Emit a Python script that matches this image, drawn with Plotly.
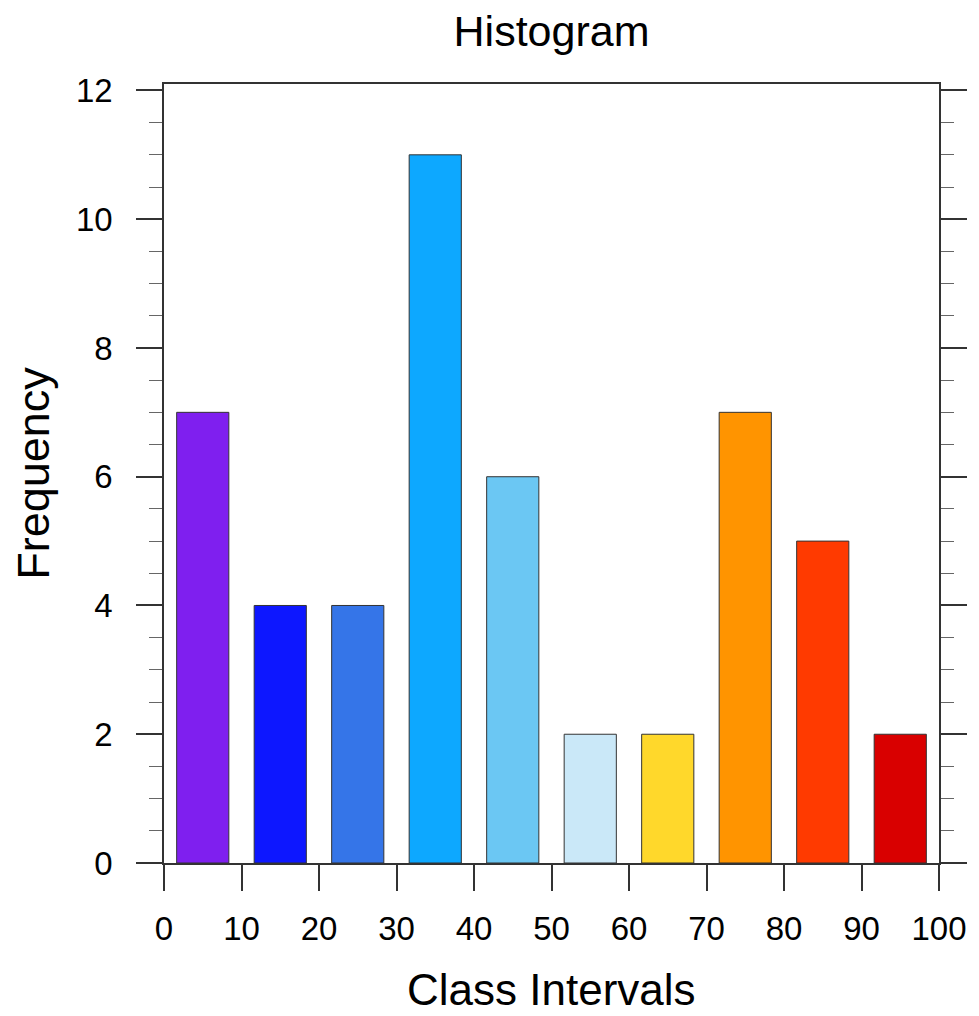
import plotly.graph_objects as go

# histogram data
bin_centers = [5, 15, 25, 35, 45, 55, 65, 75, 85, 95]
frequency = [7, 4, 4, 11, 6, 2, 2, 7, 5, 2]
bar_colors = ["#7F1FEF", "#0D17FF", "#3575E8", "#0DA8FF", "#6BC7F3",
              "#CAE8F8", "#FFD82B", "#FF9400", "#FF3A00", "#D90000"]
x_ticks = [0, 10, 20, 30, 40, 50, 60, 70, 80, 90, 100]
y_ticks = [0, 2, 4, 6, 8, 10, 12]

FONT = "Liberation Sans, Arial, Helvetica, sans-serif"

# page body has an 8px margin, so the figure is 8px smaller than the window
W, H = 971, 1008

fig = go.Figure()
fig.add_trace(go.Bar(
    x=bin_centers, y=frequency, width=6.73,
    marker=dict(color=bar_colors, line=dict(color="#333333", width=1)),
    showlegend=False,
))

fig.update_layout(
    width=W, height=H,
    margin=dict(l=156, r=35, t=76, b=153),
    plot_bgcolor="white", paper_bgcolor="white",
    font=dict(family=FONT, color="black", size=33),
    title=dict(text="Histogram", x=0.5, xref="paper", xanchor="center",
               y=1 - 23 / H, yanchor="middle", font=dict(size=43)),
)

# x title as annotation so it can be placed freely below the tick labels
fig.add_annotation(
    text="Class Intervals", x=0.5, xref="paper", y=0, yref="paper",
    xanchor="center", yanchor="middle", yshift=-126, showarrow=False,
    font=dict(size=44),
)

fig.update_xaxes(
    range=[0, 100], tickvals=x_ticks, ticktext=[str(v) for v in x_ticks],
    ticks="outside", ticklen=26, tickwidth=1.5, tickcolor="#333333",
    ticklabelstandoff=10,
    showline=True, linecolor="#333333", linewidth=1.5, mirror=True,
    showgrid=False, zeroline=False,
)

fig.update_yaxes(
    range=[0, 12.1], tickvals=y_ticks,
    ticks="outside", ticklen=26, tickwidth=1.5, tickcolor="#333333",
    ticklabelstandoff=17,
    minor=dict(ticks="outside", dtick=0.5, ticklen=13, tickwidth=1.2, tickcolor="#666666"),
    showline=True, linecolor="#333333", linewidth=1.5, mirror="ticks",
    showgrid=False, zeroline=False,
    title=dict(text="Frequency", font=dict(size=45), standoff=19),
)

fig.write_html("out.html")
